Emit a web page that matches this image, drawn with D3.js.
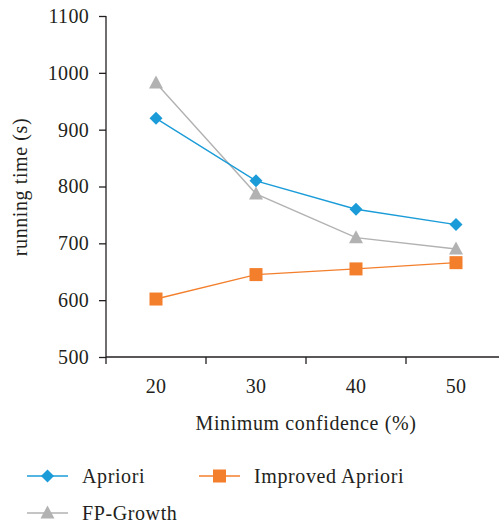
<!DOCTYPE html>
<html><head><meta charset="utf-8">
<script src="https://cdn.jsdelivr.net/npm/d3@7"></script>
<style>body{margin:0;background:#fff}svg{display:block}text{font-family:"Liberation Serif","DejaVu Serif",serif;fill:#231f20}</style>
</head><body>
<script>
const categories = ["20","30","40","50"];
const apriori = [920, 810, 760, 733];
const improved = [602, 645, 655, 666];
const fpgrowth = [982, 787, 710, 690];
const yTicks = [500,600,700,800,900,1000,1100];
const seriesNames = ["Apriori","Improved Apriori","FP-Growth"];
const colors = ["#1b9cd8","#f37f2c","#b2b2b2"];

const W=499,H=530;
const svg=d3.select("body").append("svg").attr("width",W).attr("height",H);
const x=d3.scaleBand().domain(categories).range([106,506]);
const y=d3.scaleLinear().domain([500,1100]).range([357,16]);

// y axis
const ya=svg.append("g").attr("transform","translate(106,0)")
 .call(d3.axisLeft(y).tickValues(yTicks).tickSize(7).tickPadding(10).tickFormat(d3.format("d")));
ya.select(".domain").attr("stroke","#231f20").attr("stroke-width",1.3).attr("d","M0,16V357");
ya.selectAll(".tick line").attr("stroke","#231f20").attr("stroke-width",1.3);
ya.selectAll("text").style("font-size","20px").style("letter-spacing","0.3px").attr("fill","#231f20");

// x axis
const xa=svg.append("g").attr("transform","translate(0,357)");
xa.append("line").attr("x1",106).attr("x2",499).attr("stroke","#231f20").attr("stroke-width",1.5);
categories.forEach(c=>{
  xa.append("line").attr("x1",x(c)).attr("x2",x(c)).attr("y1",0).attr("y2",7).attr("stroke","#231f20").attr("stroke-width",1.3);
  xa.append("text").attr("x",x(c)+x.bandwidth()/2).attr("y",36).attr("text-anchor","middle").style("font-size","20px").style("letter-spacing","0.3px").text(c);
});

svg.append("text").attr("transform","translate(27,187) rotate(-90)").attr("text-anchor","middle").style("font-size","20px").style("letter-spacing","0.6px").text("running time (s)");
svg.append("text").attr("x",306).attr("y",430).attr("text-anchor","middle").style("font-size","20px").style("letter-spacing","0.6px").text("Minimum confidence (%)");

const cx=c=>x(c)+x.bandwidth()/2;
const data=[apriori,improved,fpgrowth];
function marker(g,i,px,py){
  if(i===0){
    g.append("path").attr("d",`M${px},${py-6.5}L${px+6.5},${py}L${px},${py+6.5}L${px-6.5},${py}Z`).attr("fill",colors[0]);
  } else if(i===1){
    g.append("rect").attr("x",px-6.5).attr("y",py-6.5).attr("width",13).attr("height",13).attr("fill",colors[1]);
  } else {
    g.append("path").attr("d",`M${px},${py-7.5}L${px+7},${py+5.5}L${px-7},${py+5.5}Z`).attr("fill",colors[2]);
  }
}
const line=d3.line().x((d,i)=>cx(categories[i])).y(d=>y(d));
[2,0,1].forEach(i=>{
  const g=svg.append("g");
  g.append("path").datum(data[i]).attr("d",line).attr("fill","none").attr("stroke",colors[i]).attr("stroke-width",1.4);
  data[i].forEach((v,j)=>marker(g,i,cx(categories[j]),y(v)));
});

// legend
const leg=[{i:0,x:27,y:476},{i:1,x:199,y:476},{i:2,x:27,y:513}];
leg.forEach(l=>{
  const g=svg.append("g");
  g.append("line").attr("x1",l.x).attr("x2",l.x+41).attr("y1",l.y).attr("y2",l.y).attr("stroke",colors[l.i]).attr("stroke-width",1.4);
  marker(g,l.i,l.x+20.5,l.y);
  g.append("text").attr("x",l.x+55).attr("y",l.y+7).style("font-size","20px").style("letter-spacing","0.6px").text(seriesNames[l.i]);
});
</script>
</body></html>
